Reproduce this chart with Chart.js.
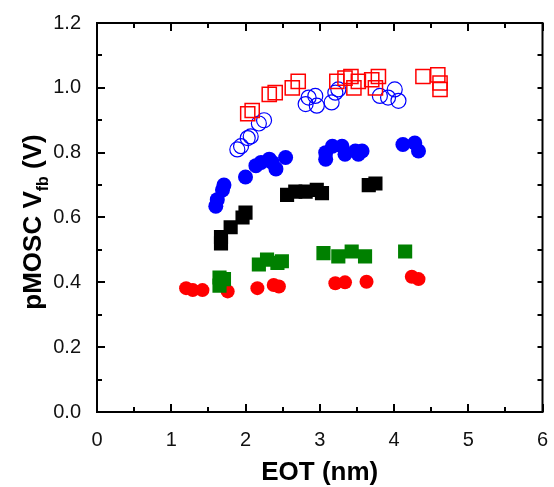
<!DOCTYPE html>
<html>
<head>
<meta charset="utf-8">
<script src="https://cdn.jsdelivr.net/npm/chart.js@4"></script>
<style>
  html, body { margin: 0; padding: 0; background: #fff; }
  #wrap { width: 554px; height: 487px; }
</style>
</head>
<body>
<div id="wrap"><canvas id="vfbChart"></canvas></div>
<script>
// --- data (EOT in nm, Vfb in V) ---
const redOpenSqX = [2.03, 2.09, 2.32, 2.40, 2.63, 2.71, 3.23, 3.34, 3.42, 3.46, 3.52, 3.70, 3.79, 3.75, 4.39, 4.59, 4.62, 4.62];
const redOpenSqY = [0.92, 0.93, 0.98, 0.985, 1.00, 1.02, 1.02, 1.03, 1.035, 1.00, 1.02, 1.025, 1.035, 1.00, 1.035, 1.04, 1.015, 0.995];

const blueOpenX = [1.89, 1.94, 2.03, 2.07, 2.18, 2.25, 2.81, 2.85, 2.94, 2.96, 3.16, 3.21, 3.25, 3.81, 3.92, 4.01, 4.06];
const blueOpenY = [0.81, 0.82, 0.845, 0.85, 0.89, 0.90, 0.95, 0.97, 0.975, 0.945, 0.955, 0.985, 0.995, 0.975, 0.97, 0.995, 0.96];

const blueFillX = [1.60, 1.62, 1.69, 1.71, 2.00, 2.14, 2.21, 2.32, 2.36, 2.41, 2.54, 3.08, 3.08, 3.17, 3.30, 3.34, 3.48, 3.52, 3.57, 4.12, 4.28, 4.33];
const blueFillY = [0.635, 0.655, 0.685, 0.70, 0.725, 0.76, 0.77, 0.78, 0.77, 0.75, 0.785, 0.78, 0.80, 0.82, 0.82, 0.795, 0.805, 0.795, 0.805, 0.825, 0.83, 0.805];

const blackSqX = [1.67, 1.67, 1.80, 1.96, 2.00, 2.56, 2.67, 2.81, 2.96, 3.03, 3.66, 3.75];
const blackSqY = [0.52, 0.54, 0.57, 0.60, 0.615, 0.67, 0.68, 0.68, 0.685, 0.675, 0.70, 0.705];

const greenSqX = [1.65, 1.65, 1.71, 2.18, 2.29, 2.43, 2.49, 3.05, 3.25, 3.43, 3.61, 4.15];
const greenSqY = [0.39, 0.415, 0.41, 0.455, 0.47, 0.46, 0.465, 0.49, 0.48, 0.495, 0.48, 0.495];

const redFillX = [1.20, 1.29, 1.42, 1.76, 2.16, 2.38, 2.45, 3.21, 3.34, 3.63, 4.24, 4.33];
const redFillY = [0.382, 0.376, 0.376, 0.372, 0.382, 0.392, 0.387, 0.397, 0.40, 0.402, 0.417, 0.41];

const xTicks = [0, 1, 2, 3, 4, 5, 6];
const yTicks = [0.0, 0.2, 0.4, 0.6, 0.8, 1.0, 1.2];

const FONT = "'Liberation Sans', Arial, Helvetica, sans-serif";

function pts(xs, ys) {
  return xs.map((x, i) => ({ x, y: ys[i] }));
}

// --- box + inward ticks + titles ---
const framePlugin = {
  id: "frame",
  afterDraw(chart) {
    const { ctx, chartArea: a, scales: { x, y } } = chart;
    ctx.save();
    ctx.strokeStyle = "#000";
    ctx.lineWidth = 2;
    ctx.strokeRect(a.left, a.top, a.right - a.left, a.bottom - a.top);

    ctx.beginPath();
    for (let v = 0; v <= 6.001; v += 0.5) {
      const px = Math.round(x.getPixelForValue(v));
      const len = Math.abs(v - Math.round(v)) < 0.01 ? 8 : 5;
      ctx.moveTo(px, a.bottom); ctx.lineTo(px, a.bottom - len);
      ctx.moveTo(px, a.top); ctx.lineTo(px, a.top + len);
    }
    for (let i = 0; i <= 12; i++) {
      const py = Math.round(y.getPixelForValue(i * 0.1));
      const len = i % 2 === 0 ? 8 : 5;
      ctx.moveTo(a.left, py); ctx.lineTo(a.left + len, py);
      ctx.moveTo(a.right, py); ctx.lineTo(a.right - 5, py);
    }
    ctx.stroke();

    // x title
    ctx.fillStyle = "#000";
    ctx.font = "bold 26px " + FONT;
    ctx.textAlign = "center";
    ctx.textBaseline = "alphabetic";
    ctx.fillText("EOT (nm)", (a.left + a.right) / 2, 480);

    // y title with subscript
    const main1 = "pMOSC V", sub = "fb", main2 = " (V)";
    ctx.font = "bold 26px " + FONT;
    const w1 = ctx.measureText(main1).width;
    const w3 = ctx.measureText(main2).width;
    ctx.font = "bold 16px " + FONT;
    const w2 = ctx.measureText(sub).width;
    const total = w1 + w2 + w3;
    ctx.translate(41, 222);
    ctx.rotate(-Math.PI / 2);
    ctx.textAlign = "left";
    let sx = -total / 2;
    ctx.font = "bold 26px " + FONT;
    ctx.fillText(main1, sx, 0);
    sx += w1;
    ctx.font = "bold 16px " + FONT;
    ctx.fillText(sub, sx, 7);
    sx += w2;
    ctx.font = "bold 26px " + FONT;
    ctx.fillText(main2, sx, 0);
    ctx.restore();
  }
};

const ctx = document.getElementById("vfbChart").getContext("2d");
new Chart(ctx, {
  type: "scatter",
  data: {
    datasets: [
      {
        label: "red open squares",
        data: pts(redOpenSqX, redOpenSqY),
        pointStyle: "rect",
        pointRadius: 10,
        backgroundColor: "rgba(255,255,255,0)",
        borderColor: "#ff0000",
        borderWidth: 1.5
      },
      {
        label: "blue open circles",
        data: pts(blueOpenX, blueOpenY),
        pointStyle: "circle",
        pointRadius: 7.5,
        backgroundColor: "rgba(255,255,255,0)",
        borderColor: "#0000ff",
        borderWidth: 1.2
      },
      {
        label: "blue filled circles",
        data: pts(blueFillX, blueFillY),
        pointStyle: "circle",
        pointRadius: 7.5,
        backgroundColor: "#0000ff",
        borderColor: "#0000ff",
        borderWidth: 0
      },
      {
        label: "black squares",
        data: pts(blackSqX, blackSqY),
        pointStyle: "rect",
        pointRadius: 10,
        backgroundColor: "#000000",
        borderColor: "#000000",
        borderWidth: 0
      },
      {
        label: "green squares",
        data: pts(greenSqX, greenSqY),
        pointStyle: "rect",
        pointRadius: 10,
        backgroundColor: "#008000",
        borderColor: "#008000",
        borderWidth: 0
      },
      {
        label: "red filled circles",
        data: pts(redFillX, redFillY),
        pointStyle: "circle",
        pointRadius: 7,
        backgroundColor: "#ff0000",
        borderColor: "#ff0000",
        borderWidth: 0
      }
    ]
  },
  options: {
    responsive: true,
    maintainAspectRatio: false,
    animation: false,
    layout: { padding: { left: 0, top: 23, right: 7, bottom: 0 } },
    plugins: {
      legend: { display: false },
      tooltip: { enabled: false }
    },
    scales: {
      x: {
        type: "linear",
        min: 0,
        max: 6,
        afterBuildTicks: (s) => { s.ticks = xTicks.map(v => ({ value: v })); },
        afterFit: (s) => { s.height = 75; s.paddingLeft = 0; s.paddingRight = 0; },
        grid: { display: false },
        border: { display: false },
        ticks: {
          color: "#111",
          padding: 8,
          font: { family: FONT, size: 20 },
          maxRotation: 0
        }
      },
      y: {
        type: "linear",
        min: 0,
        max: 1.2,
        afterBuildTicks: (s) => { s.ticks = yTicks.map(v => ({ value: v })); },
        afterFit: (s) => { s.width = 97; s.paddingTop = 0; s.paddingBottom = 0; },
        grid: { display: false },
        border: { display: false },
        ticks: {
          color: "#111",
          padding: 8,
          font: { family: FONT, size: 20 },
          callback: (v) => Number(v).toFixed(1)
        }
      }
    }
  },
  plugins: [framePlugin]
});
</script>
</body>
</html>
